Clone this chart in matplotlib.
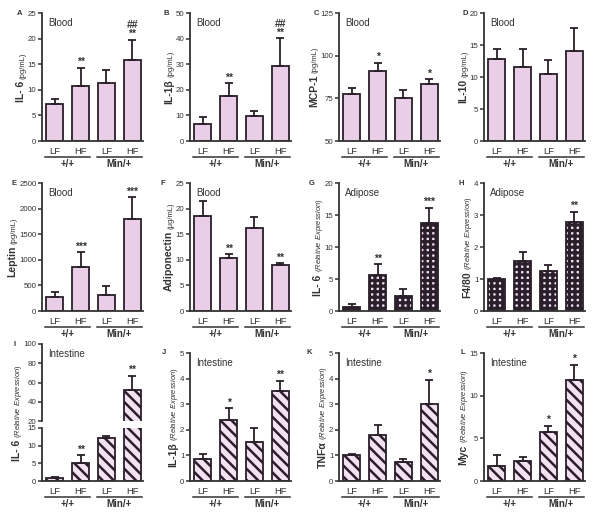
import numpy as np
import matplotlib
matplotlib.use('Agg')
import matplotlib.pyplot as plt
from matplotlib.transforms import ScaledTranslation

plt.rcParams['font.family'] = ['Liberation Sans', 'DejaVu Sans']
plt.rcParams['mathtext.fontset'] = 'custom'
plt.rcParams['mathtext.rm'] = 'Liberation Sans'
plt.rcParams['mathtext.it'] = 'Liberation Sans:italic'
plt.rcParams['mathtext.bf'] = 'Liberation Sans:bold'
plt.rcParams['hatch.linewidth'] = 1.8

diets = ['LF', 'HF', 'LF', 'HF']
genotypes = ['+/+', 'Min/+']

# blood
il6_blood = [7.3, 10.8, 11.4, 15.9]
il6_blood_sem = [1.0, 3.5, 2.4, 3.9]
il6_blood_sig = ['', '**', '', '##\n**']

il1b_blood = [6.8, 17.6, 9.8, 29.3]
il1b_blood_sem = [2.5, 4.9, 1.8, 10.8]
il1b_blood_sig = ['', '**', '', '##\n**']

mcp1_blood = [77.5, 91.3, 75.0, 83.5]
mcp1_blood_sem = [3.5, 4.5, 4.8, 2.6]
mcp1_blood_sig = ['', '*', '', '*']

il10_blood = [12.8, 11.6, 10.5, 14.0]
il10_blood_sem = [1.5, 2.8, 2.2, 3.7]
il10_blood_sig = ['', '', '', '']

leptin_blood = [280, 850, 320, 1800]
leptin_blood_sem = [90, 300, 160, 420]
leptin_blood_sig = ['', '***', '', '***']

adipo_blood = [18.5, 10.4, 16.3, 9.0]
adipo_blood_sem = [3.0, 0.7, 2.1, 0.3]
adipo_blood_sig = ['', '**', '', '**']

# adipose
il6_adip = [0.6, 5.7, 2.3, 13.8]
il6_adip_sem = [0.5, 1.6, 1.2, 2.3]
il6_adip_sig = ['', '**', '', '***']

f480_adip = [1.0, 1.57, 1.25, 2.77]
f480_adip_sem = [0.03, 0.26, 0.2, 0.33]
f480_adip_sig = ['', '', '', '**']

# intestine
il6_int = [0.8, 5.1, 12.1, 52.0]
il6_int_sem = [0.3, 2.2, 0.5, 15.0]
il6_int_sig = ['', '**', '', '**']

il1b_int = [0.87, 2.4, 1.52, 3.5]
il1b_int_sem = [0.2, 0.45, 0.55, 0.42]
il1b_int_sig = ['', '*', '', '**']

tnfa_int = [1.0, 1.8, 0.75, 3.0]
tnfa_int_sem = [0.04, 0.4, 0.11, 0.95]
tnfa_int_sig = ['', '', '', '*']

myc_int = [1.7, 2.3, 5.8, 11.8]
myc_int_sem = [1.3, 0.5, 0.7, 1.8]
myc_int_sig = ['', '', '*', '*']

PINK = '#eacde7'
LIGHT = '#f3e2f1'
DARK = '#2a1f2a'
GREY = '#333333'

W, H = 601, 518
fig = plt.figure(figsize=(W / 100, H / 100), dpi=100)

lefts = [42, 190, 339, 484]
rows = [(13, 141), (183, 311), (353, 481)]
letter_dx = [-20, -21, -6, -7, -25, -25, -24, -20, -26, -24, -27, -19]


def px_axes(left, top, bottom, width=101):
    return fig.add_axes([left / W, 1 - bottom / H, width / W, (bottom - top) / H])


def style_ax(ax, ylim, yticks):
    ax.set_xlim(-0.49, 3.41)
    ax.set_ylim(*ylim)
    ax.set_yticks(yticks)
    ax.set_xticks([])
    for s in ['top', 'right']:
        ax.spines[s].set_visible(False)
    for s in ['left', 'bottom']:
        ax.spines[s].set_linewidth(1.3)
        ax.spines[s].set_color(GREY)
    ax.tick_params(axis='y', direction='out', length=3, width=1.1, pad=1.0,
                   labelsize=5.7, colors=GREY)


def draw_bars(ax, vals, sem, style):
    x = np.arange(len(vals))
    hlw = 1.8
    if style == 'dots':
        fc, hatch, hlw = LIGHT, '+++', 2.3
    elif style == 'stripes':
        fc, hatch = LIGHT, '\\\\\\'
    else:
        fc, hatch = PINK, None
    with plt.rc_context({'hatch.linewidth': hlw}):
        bars = ax.bar(x, vals, width=0.66, color=fc, edgecolor=DARK, linewidth=1.3,
                      hatch=hatch, zorder=2)
        for b in bars:
            if hasattr(b, 'set_hatch_linewidth'):
                b.set_hatch_linewidth(hlw)
    ax.errorbar(x, vals, yerr=[np.zeros(len(vals)), sem], fmt='none',
                ecolor=DARK, elinewidth=1.3, capsize=3, capthick=1.3, zorder=3)


def add_marks(ax, vals, sem, sig):
    for i, s in enumerate(sig):
        if s:
            ax.annotate(s, xy=(i, vals[i] + sem[i]), xytext=(0, 0.5),
                        textcoords='offset points', ha='center', va='bottom',
                        fontsize=7.5, fontweight='bold', linespacing=0.85, color=GREY)


def offset_trans(ax, dy):
    return ax.get_xaxis_transform() + ScaledTranslation(0, -dy / 100, fig.dpi_scale_trans)


def add_xgroups(ax):
    for i, d in enumerate(diets):
        ax.text(i, 0, d, transform=offset_trans(ax, 10), ha='center', va='center',
                fontsize=6.8, color=GREY)
    for g, (a, b) in enumerate([(0, 1), (2, 3)]):
        ax.plot([a - 0.36, b + 0.36], [0, 0], transform=offset_trans(ax, 15.5),
                color=GREY, lw=1.1, clip_on=False)
        ax.text(a + 0.5, 0, genotypes[g], transform=offset_trans(ax, 23),
                ha='center', va='center', fontsize=7, fontweight='bold', color=GREY)


rel = r'($\mathit{Relative\ Expression}$)'
panels = [
    ('A', 'Blood', 'IL- 6', '(pg/mL)', il6_blood, il6_blood_sem, il6_blood_sig, (0, 25), np.arange(0, 26, 5), 'plain'),
    ('B', 'Blood', 'IL-1β', '(pg/mL)', il1b_blood, il1b_blood_sem, il1b_blood_sig, (0, 50), np.arange(0, 51, 10), 'plain'),
    ('C', 'Blood', 'MCP-1', '(pg/mL)', mcp1_blood, mcp1_blood_sem, mcp1_blood_sig, (50, 125), [50, 75, 100, 125], 'plain'),
    ('D', 'Blood', 'IL-10', '(pg/mL)', il10_blood, il10_blood_sem, il10_blood_sig, (0, 20), np.arange(0, 21, 5), 'plain'),
    ('E', 'Blood', 'Leptin', '(pg/mL)', leptin_blood, leptin_blood_sem, leptin_blood_sig, (0, 2500), np.arange(0, 2501, 500), 'plain'),
    ('F', 'Blood', 'Adiponectin', '(μg/mL)', adipo_blood, adipo_blood_sem, adipo_blood_sig, (0, 25), np.arange(0, 26, 5), 'plain'),
    ('G', 'Adipose', 'IL- 6', rel, il6_adip, il6_adip_sem, il6_adip_sig, (0, 20), np.arange(0, 21, 5), 'dots'),
    ('H', 'Adipose', 'F4/80', rel, f480_adip, f480_adip_sem, f480_adip_sig, (0, 4), np.arange(0, 5, 1), 'dots'),
    ('I', 'Intestine', 'IL- 6', rel, il6_int, il6_int_sem, il6_int_sig, None, None, 'stripes'),
    ('J', 'Intestine', 'IL-1β', rel, il1b_int, il1b_int_sem, il1b_int_sig, (0, 5), np.arange(0, 6, 1), 'stripes'),
    ('K', 'Intestine', 'TNFα', rel, tnfa_int, tnfa_int_sem, tnfa_int_sig, (0, 5), np.arange(0, 6, 1), 'stripes'),
    ('L', 'Intestine', 'Myc', rel, myc_int, myc_int_sem, myc_int_sig, (0, 15), np.arange(0, 16, 5), 'stripes'),
]

label_jobs = []
for k, (letter, tissue, name, unit, vals, sem, sig, ylim, yticks, style) in enumerate(panels):
    top, bottom = rows[k // 4]
    left = lefts[k % 4]
    if letter == 'I':
        # broken y axis
        ax_lo = px_axes(left, 428, bottom)
        ax_hi = px_axes(left, 344, 421)
        style_ax(ax_lo, (0, 15), [0, 5, 10, 15])
        style_ax(ax_hi, (20, 100), [20, 40, 60, 80, 100])
        ax_hi.spines['bottom'].set_visible(False)
        for a in (ax_lo, ax_hi):
            draw_bars(a, vals, sem, style)
        add_marks(ax_lo, vals, sem, [s if vals[i] + sem[i] <= 15 else '' for i, s in enumerate(sig)])
        add_marks(ax_hi, vals, sem, [s if vals[i] + sem[i] > 15 else '' for i, s in enumerate(sig)])
        add_xgroups(ax_lo)
        ax_top = ax_hi
        axs = [ax_lo, ax_hi]
    else:
        ax = px_axes(left, top, bottom)
        style_ax(ax, ylim, yticks)
        draw_bars(ax, vals, sem, style)
        add_marks(ax, vals, sem, sig)
        add_xgroups(ax)
        ax_top = ax
        axs = [ax]
    ax_top.text(6 / 101, 1, tissue, transform=ax_top.transAxes + ScaledTranslation(0, -10 / 100, fig.dpi_scale_trans),
                ha='left', va='center', fontsize=7, color=GREY)
    label_jobs.append((letter, name, unit, axs, k))

fig.canvas.draw()
r = fig.canvas.get_renderer()
for letter, name, unit, axs, k in label_jobs:
    tick_boxes = [t.get_window_extent(r) for a in axs for t in a.get_yticklabels() if t.get_text()]
    x0 = min(b.x0 for b in tick_boxes)
    ys = [a.get_window_extent(r) for a in axs]
    y_lo = min(b.y0 for b in ys)
    y_hi = max(b.y1 for b in ys)
    yc = (y_lo + y_hi) / 2
    t1 = fig.text(0, 0, name, rotation=90, rotation_mode='anchor', ha='left', va='baseline',
                  fontsize=7.5, fontweight='bold', color=GREY)
    t2 = fig.text(0, 0, unit, rotation=90, rotation_mode='anchor', ha='left', va='baseline',
                  fontsize=5.5, color=GREY)
    w1 = t1.get_window_extent(r).height
    w2 = t2.get_window_extent(r).height
    gap = 2
    y0 = yc - (w1 + gap + w2) / 2
    xb = x0 - 3.5
    t1.set_position((xb / W, y0 / H))
    t2.set_position((xb / W, (y0 + w1 + gap) / H))
    # panel letter, just left of the top tick label
    top_box = max(tick_boxes, key=lambda b: b.y1)
    xl = min(lefts[k % 4] + letter_dx[k], top_box.x0 - 1.5)
    fig.text(xl / W, y_hi / H, letter, ha='right', va='center',
             fontsize=5.5, fontweight='bold', color=GREY)

fig.savefig('out.png', dpi=100)
